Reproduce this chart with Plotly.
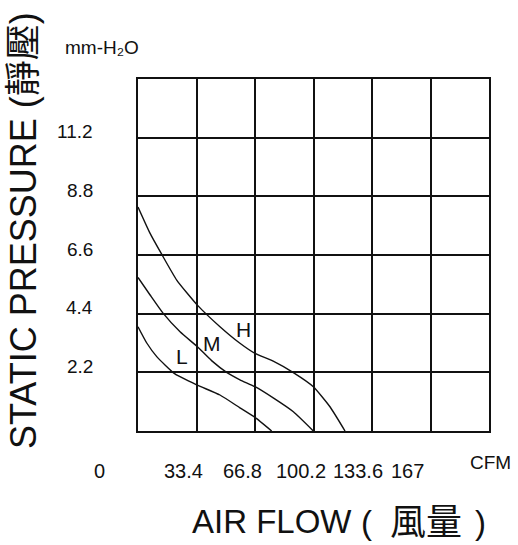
import plotly.graph_objects as go

# ---- data ----
h_cfm = [0, 6.9, 13.5, 22.1, 33.9, 46.8, 58.2, 66.8, 77.2, 88.7, 100.1, 109.6, 118.2]
h_p   = [8.4, 7.41, 6.63, 5.66, 4.72, 3.91, 3.29, 2.91, 2.62, 2.19, 1.66, 0.91, 0.0]
m_cfm = [0, 6.9, 14.4, 24.0, 33.9, 42.0, 50.6, 58.2, 66.8, 77.2, 88.7, 100.1]
m_p   = [5.76, 5.10, 4.41, 3.72, 3.16, 2.64, 2.20, 1.92, 1.66, 1.24, 0.72, 0.0]
l_cfm = [0, 5.0, 10.7, 21.1, 33.9, 46.8, 58.2, 66.8, 76.3]
l_p   = [3.91, 3.30, 2.79, 2.14, 1.72, 1.35, 0.87, 0.51, 0.0]

x_tick_vals = [0, 33.4, 66.8, 100.2, 133.6, 167]
x_tick_text = ["0", "33.4", "66.8", "100.2", "133.6", "167"]
y_tick_vals = [2.2, 4.4, 6.6, 8.8, 11.0]
y_tick_text = ["2.2", "4.4", "6.6", "8.8", "11.2"]

curve_names = ["H", "M", "L"]

# ---- layout helpers ----
W, H = 518, 545
L, R, T, B = 138, 29, 79, 114
PW, PH = W - L - R, H - T - B

def px(x):
    return (x - L) / PW

def py(y):
    return (H - B - y) / PH

FONT = "Liberation Sans, Arial, Noto Sans CJK TC, sans-serif"
INK = "#111111"

fig = go.Figure()
for xs, ys, nm in [(h_cfm, h_p, "H"), (m_cfm, m_p, "M"), (l_cfm, l_p, "L")]:
    fig.add_trace(go.Scatter(x=xs, y=ys, mode="lines", name=nm,
                             line=dict(color=INK, width=1.4, shape="spline", smoothing=0.5),
                             showlegend=False, hoverinfo="skip"))

ann = []
# y tick labels
for v, t in zip(y_tick_vals, y_tick_text):
    ann.append(dict(x=px(95), xref="paper", y=v, yref="y", text=t, showarrow=False,
                    xanchor="right", yanchor="middle", yshift=6,
                    font=dict(family=FONT, size=19, color=INK)))
# x tick labels
x_shift = [-39, -13.5, -13, -12.5, -14, -23.5]
for v, t, s in zip(x_tick_vals, x_tick_text, x_shift):
    ann.append(dict(x=v, xref="x", y=py(471), yref="paper", text=t, showarrow=False,
                    xanchor="center", yanchor="middle", xshift=s,
                    font=dict(family=FONT, size=20, color=INK)))
# units
ann.append(dict(x=px(490), xref="paper", y=py(462), yref="paper", text="CFM", showarrow=False,
                xanchor="center", yanchor="middle", font=dict(family=FONT, size=19, color=INK)))
ann.append(dict(x=px(63), xref="paper", y=py(47), yref="paper", text="mm-H₂O", showarrow=False,
                xanchor="left", yanchor="middle", font=dict(family=FONT, size=19, color=INK)))
# curve labels
for nm, (cx, cy) in zip(curve_names, [(243, 329), (212, 343), (182, 356)]):
    ann.append(dict(x=px(cx), xref="paper", y=py(cy), yref="paper", text=nm, showarrow=False,
                    xanchor="center", yanchor="middle", font=dict(family=FONT, size=21, color=INK)))
# axis titles
ann.append(dict(x=px(24), xref="paper", y=py(231), yref="paper", text="STATIC PRESSURE (靜壓)",
                showarrow=False, textangle=-90, xanchor="center", yanchor="middle",
                font=dict(family=FONT, size=36, color=INK)))
ann.append(dict(x=px(190), xref="paper", y=py(521), yref="paper", text="AIR FLOW",
                showarrow=False, xanchor="left", yanchor="middle",
                font=dict(family=FONT, size=33, color=INK)))
ann.append(dict(x=px(366), xref="paper", y=py(522), yref="paper", text="(",
                showarrow=False, xanchor="center", yanchor="middle",
                font=dict(family=FONT, size=33, color=INK)))
ann.append(dict(x=px(426), xref="paper", y=py(519), yref="paper", text="風量",
                showarrow=False, xanchor="center", yanchor="middle",
                font=dict(family="Noto Sans CJK TC, sans-serif", size=36, color=INK)))
ann.append(dict(x=px(480), xref="paper", y=py(522), yref="paper", text=")",
                showarrow=False, xanchor="center", yanchor="middle",
                font=dict(family=FONT, size=33, color=INK)))

fig.update_layout(
    width=W, height=H,
    margin=dict(l=L, r=R, t=T, b=B),
    paper_bgcolor="white", plot_bgcolor="white",
    annotations=ann,
    xaxis=dict(range=[0, 200.4], tick0=0, dtick=33.4, showticklabels=False, ticks="",
               showgrid=True, gridcolor=INK, gridwidth=1.5, zeroline=False,
               showline=True, linecolor=INK, linewidth=1.5, mirror=True, fixedrange=True),
    yaxis=dict(range=[0, 13.2], tick0=0, dtick=2.2, showticklabels=False, ticks="",
               showgrid=True, gridcolor=INK, gridwidth=1.5, zeroline=False,
               showline=True, linecolor=INK, linewidth=1.5, mirror=True, fixedrange=True),
)

fig.write_html("out.html", config={"displayModeBar": False},
               post_script="document.body.style.margin='0';")
